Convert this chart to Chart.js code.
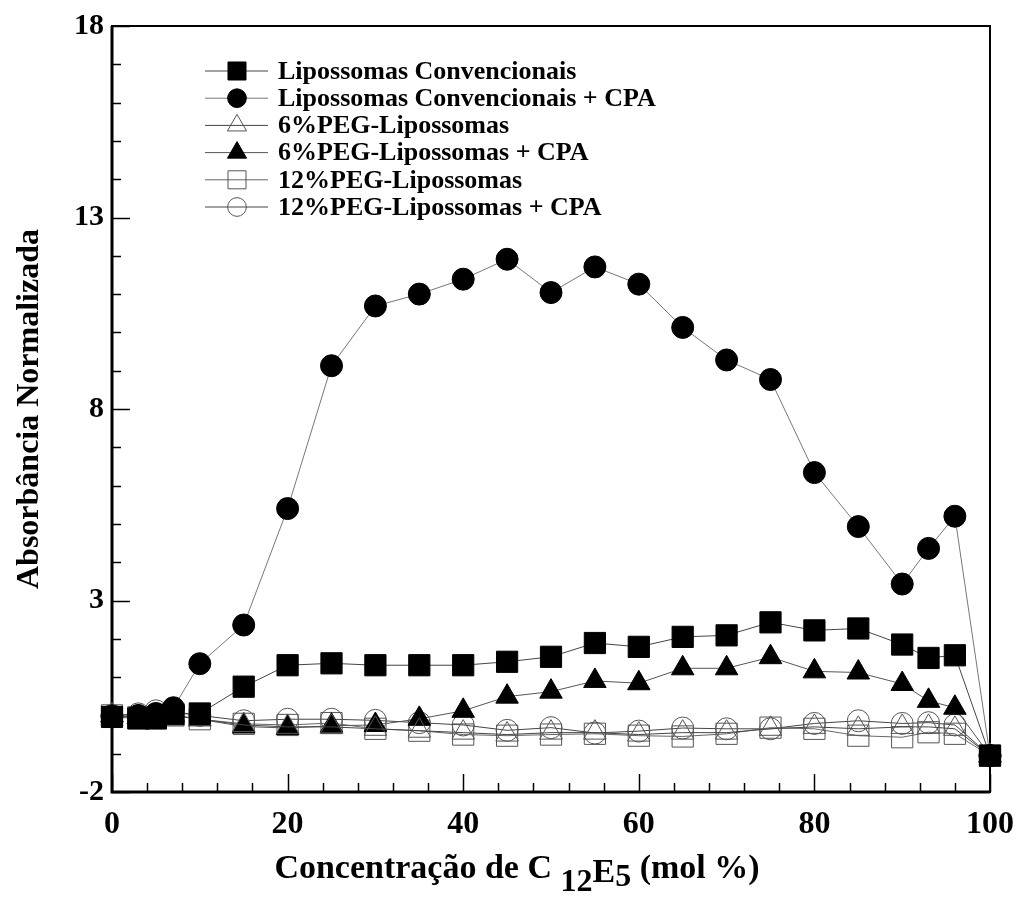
<!DOCTYPE html>
<html>
<head>
<meta charset="utf-8">
<title>Absorbância Normalizada</title>
<script src="https://cdn.jsdelivr.net/npm/chart.js@4.4.0/dist/chart.umd.min.js"></script>
<style>
  html, body { margin: 0; padding: 0; background: #fff; }
</style>
</head>
<body>
<canvas id="grafico" width="1020" height="901"></canvas>
<script>
// Concentração de C12E5 (mol %)
var concentracoes = [0, 3, 5, 7, 10, 15, 20, 25, 30, 35, 40, 45, 50, 55, 60, 65, 70, 75, 80, 85, 90, 93, 96, 100];

// Absorbância normalizada de cada formulação
var convencionais    = [-0.04, -0.08, -0.08, 0.03, 0.05, 0.75, 1.31, 1.36, 1.31, 1.31, 1.31, 1.40, 1.53, 1.89, 1.79, 2.05, 2.09, 2.43, 2.22, 2.27, 1.85, 1.50, 1.57, -1.05];
var convencionaisCPA = [-0.02, 0.00, 0.05, 0.20, 1.35, 2.36, 5.40, 9.13, 10.69, 11.00, 11.39, 11.91, 11.04, 11.71, 11.26, 10.13, 9.28, 8.77, 6.34, 4.93, 3.43, 4.36, 5.20, -1.05];
var peg6             = [0.00, -0.05, -0.05, 0.00, -0.10, -0.25, -0.30, -0.30, -0.35, -0.40, -0.45, -0.50, -0.45, -0.45, -0.50, -0.45, -0.45, -0.35, -0.30, -0.35, -0.30, -0.30, -0.35, -1.05];
var peg6CPA          = [0.00, -0.05, -0.05, 0.00, -0.10, -0.29, -0.33, -0.27, -0.25, -0.09, 0.12, 0.49, 0.62, 0.90, 0.84, 1.23, 1.23, 1.52, 1.15, 1.12, 0.82, 0.38, 0.20, -1.05];
var peg12            = [0.00, -0.05, -0.05, 0.00, -0.10, -0.22, -0.25, -0.20, -0.35, -0.40, -0.50, -0.53, -0.50, -0.48, -0.53, -0.55, -0.48, -0.32, -0.35, -0.53, -0.57, -0.44, -0.48, -1.05];
var peg12CPA         = [0.00, 0.04, 0.12, 0.10, 0.00, -0.14, -0.10, -0.10, -0.13, -0.19, -0.25, -0.39, -0.32, -0.46, -0.41, -0.33, -0.35, -0.35, -0.21, -0.14, -0.21, -0.19, -0.25, -1.05];

var rotulos = [
  'Lipossomas Convencionais',
  'Lipossomas Convencionais + CPA',
  '6%PEG-Lipossomas',
  '6%PEG-Lipossomas + CPA',
  '12%PEG-Lipossomas',
  '12%PEG-Lipossomas + CPA'
];

var ticksY = [-2, 3, 8, 13, 18];
var ticksX = [0, 20, 40, 60, 80, 100];

var FONTE = "'Liberation Serif', 'Times New Roman', serif";

var series = [convencionais, convencionaisCPA, peg6, peg6CPA, peg12, peg12CPA];
var estilos = [
  { marcador: 'rect',     raio: 15, cheio: true,  linha: '#444' },
  { marcador: 'circle',   raio: 11, cheio: true,  linha: '#777' },
  { marcador: 'triangle', raio: 13, cheio: false, linha: '#444' },
  { marcador: 'triangle', raio: 13, cheio: true,  linha: '#555' },
  { marcador: 'rect',     raio: 15, cheio: false, linha: '#666' },
  { marcador: 'circle',   raio: 11, cheio: false, linha: '#444' }
];

function pontos(valores) {
  return concentracoes.map(function (x, i) { return { x: x, y: valores[i] }; });
}

var datasets = series.map(function (valores, i) {
  var e = estilos[i];
  return {
    label: rotulos[i],
    data: pontos(valores),
    borderColor: e.linha,
    borderWidth: 1,
    pointStyle: e.marcador,
    pointRadius: e.raio,
    pointBackgroundColor: e.cheio ? '#000' : 'rgba(0,0,0,0)',
    pointBorderColor: e.cheio ? '#000' : '#555',
    pointBorderWidth: 1,
    tension: 0,
    clip: false
  };
});

// Moldura e marcas de escala voltadas para dentro
var eixosInternos = {
  id: 'eixosInternos',
  beforeDatasetsDraw: function (chart) {
    var ctx = chart.ctx, a = chart.chartArea;
    var sx = chart.scales.x, sy = chart.scales.y;
    ctx.save();
    ctx.strokeStyle = '#000';
    ctx.lineWidth = 1.5;
    for (var v = ticksY[0]; v <= ticksY[ticksY.length - 1]; v += 1) {
      var py = Math.round(sy.getPixelForValue(v)) + 0.5;
      var len = ticksY.indexOf(v) >= 0 ? 18 : 9;
      ctx.beginPath(); ctx.moveTo(a.left, py); ctx.lineTo(a.left + len, py); ctx.stroke();
    }
    for (var u = 0; u <= 100; u += 4) {
      var px = Math.round(sx.getPixelForValue(u)) + 0.5;
      var l = u % 20 === 0 ? 18 : 9;
      ctx.beginPath(); ctx.moveTo(px, a.bottom); ctx.lineTo(px, a.bottom - l); ctx.stroke();
    }
    ctx.lineWidth = 2;
    ctx.strokeRect(a.left, a.top, a.right - a.left, a.bottom - a.top);
    ctx.lineWidth = 3;
    ctx.beginPath();
    ctx.moveTo(a.left, a.top); ctx.lineTo(a.left, a.bottom); ctx.lineTo(a.right, a.bottom);
    ctx.stroke();
    ctx.restore();
  }
};

// Legenda com segmento de linha e marcador
var legendaLinhas = {
  id: 'legendaLinhas',
  afterDatasetsDraw: function (chart) {
    var ctx = chart.ctx;
    ctx.save();
    chart.data.datasets.forEach(function (ds, i) {
      var y = 71 + 27.2 * i;
      ctx.strokeStyle = ds.borderColor;
      ctx.lineWidth = 1;
      ctx.beginPath(); ctx.moveTo(205, y); ctx.lineTo(268, y); ctx.stroke();
      ctx.fillStyle = ds.pointBackgroundColor;
      ctx.strokeStyle = ds.pointBorderColor;
      Chart.helpers.drawPoint(ctx, { pointStyle: ds.pointStyle, radius: ds.pointRadius * 0.85, borderWidth: 1, rotation: 0 }, 237, y);
      ctx.fillStyle = '#000';
      ctx.font = 'bold 26px ' + FONTE;
      ctx.textBaseline = 'middle';
      ctx.textAlign = 'left';
      ctx.fillText(ds.label, 278, y + 1);
    });
    ctx.restore();
  }
};

// Título do eixo x com índices abaixados (C12E5)
var tituloX = {
  id: 'tituloX',
  afterDraw: function (chart) {
    var ctx = chart.ctx;
    var partes = [
      { t: 'Concentração de C ', tam: 34, desce: 0 },
      { t: '12', tam: 32, desce: 13 },
      { t: 'E', tam: 34, desce: 4 },
      { t: '5', tam: 32, desce: 8 },
      { t: ' (mol %)', tam: 34, desce: 0 }
    ];
    ctx.save();
    ctx.fillStyle = '#000';
    ctx.textBaseline = 'alphabetic';
    ctx.textAlign = 'left';
    var total = 0;
    partes.forEach(function (p) {
      ctx.font = 'bold ' + p.tam + 'px ' + FONTE;
      p.w = ctx.measureText(p.t).width;
      total += p.w;
    });
    var x = 517 - total / 2, base = 878;
    partes.forEach(function (p) {
      ctx.font = 'bold ' + p.tam + 'px ' + FONTE;
      ctx.fillText(p.t, x, base + p.desce);
      x += p.w;
    });
    ctx.restore();
  }
};

new Chart(document.getElementById('grafico'), {
  type: 'line',
  data: { datasets: datasets },
  options: {
    responsive: false,
    animation: false,
    devicePixelRatio: 1,
    layout: { padding: { top: 25, right: 30, left: 0, bottom: 0 } },
    plugins: {
      legend: { display: false },
      tooltip: { enabled: false }
    },
    scales: {
      x: {
        type: 'linear',
        min: 0,
        max: 100,
        afterBuildTicks: function (s) { s.ticks = ticksX.map(function (v) { return { value: v }; }); },
        afterFit: function (s) { s.height = 109; s.paddingLeft = 0; s.paddingRight = 0; },
        grid: { display: false, drawTicks: false },
        border: { display: false },
        ticks: { color: '#000', padding: 14, maxRotation: 0, font: { family: FONTE, size: 32, weight: 'bold' } }
      },
      y: {
        type: 'linear',
        min: -2,
        max: 18,
        afterBuildTicks: function (s) { s.ticks = ticksY.map(function (v) { return { value: v }; }); },
        afterFit: function (s) { s.width = 112; },
        grid: { display: false, drawTicks: false },
        border: { display: false },
        ticks: { color: '#000', padding: 8, font: { family: FONTE, size: 30, weight: 'bold' } },
        title: {
          display: true,
          text: 'Absorbância Normalizada',
          color: '#000',
          padding: { top: 11, bottom: 0 },
          font: { family: FONTE, size: 32, weight: 'bold' }
        }
      }
    }
  },
  plugins: [eixosInternos, legendaLinhas, tituloX]
});
</script>
</body>
</html>
